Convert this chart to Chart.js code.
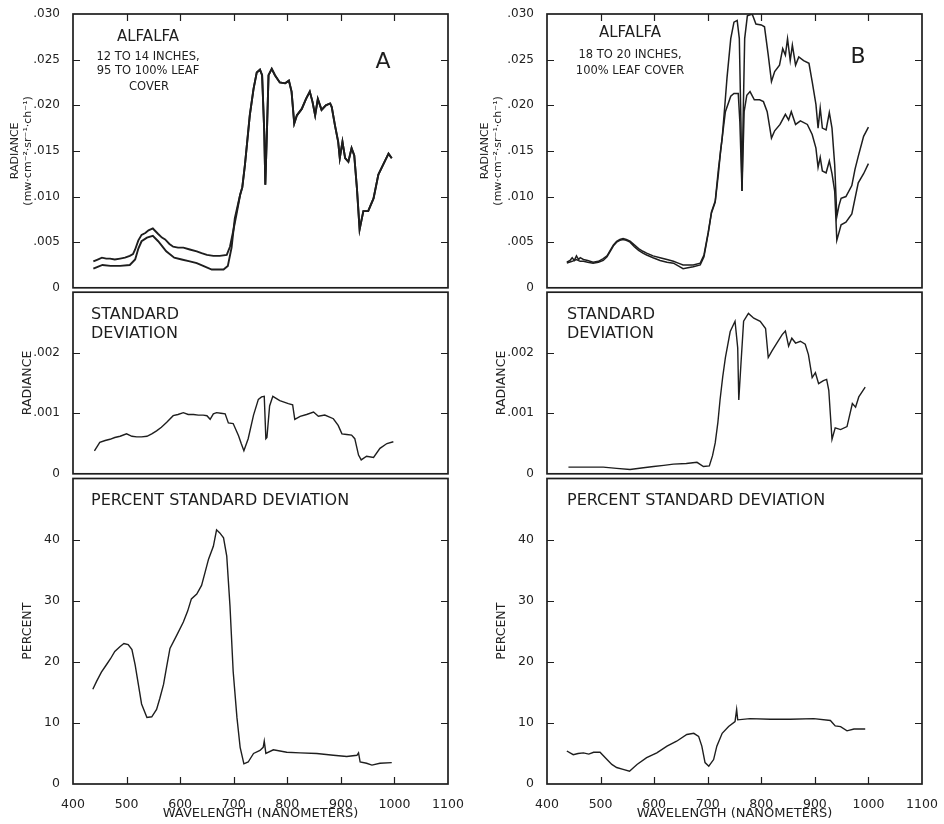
<!DOCTYPE html>
<html>
<head>
<meta charset="utf-8">
<script src="https://cdn.jsdelivr.net/npm/chart.js@4.4.0/dist/chart.umd.min.js"></script>
<style>
	html, body { margin: 0; padding: 0; background: #fff; }
	#wrap { position: relative; width: 944px; height: 824px; overflow: hidden; }
	#wrap canvas { position: absolute; }
</style>
</head>
<body>
<div id="wrap"></div>
<script>
// ---- data (wavelength nm / value) ----

// A top: radiance, 12-14 in alfalfa. Two curves that merge past ~705 nm.
const wlA_visUpper = [438, 446, 454, 462, 469, 478, 488, 497, 506, 512, 516, 522, 528, 535, 541, 549, 554, 559, 566, 572, 580, 587, 596, 606, 618, 631, 640, 650, 662, 674, 687, 693, 699, 705];
const radA_visUpper = [.0029, .0031, .0033, .0032, .0032, .0031, .0032, .0033, .0035, .0037, .0042, .0052, .0058, .0060, .0063, .0065, .0062, .0059, .0055, .0053, .0048, .0045, .0044, .0044, .0042, .0040, .0038, .0036, .0035, .0035, .0036, .0045, .0062, .0080];
const wlA_visLower = [438, 446, 455, 470, 488, 506, 516, 522, 528, 538, 549, 559, 566, 574, 589, 603, 618, 631, 643, 659, 670, 681, 689, 696, 702];
const radA_visLower = [.0021, .0023, .0025, .0024, .0024, .0025, .0031, .0043, .0051, .0055, .0057, .0051, .0046, .0040, .0033, .0031, .0029, .0027, .0024, .0020, .0020, .0020, .0024, .0044, .0076];
const wlA_nir = [712, 716, 721, 730, 737, 743, 749, 753, 757, 759, 762, 765, 771, 777, 786, 796, 803, 808, 813, 818, 827, 835, 842, 847, 852, 857, 864, 872, 880, 883, 889, 895, 898, 903, 908, 914, 920, 925, 930, 935, 942, 951, 961, 970, 979, 989, 995];
const radA_nir = [.0102, .0110, .0135, .0189, .0218, .0236, .0239, .0233, .0171, .0113, .0171, .0233, .0240, .0233, .0225, .0224, .0227, .0215, .0180, .0189, .0196, .0207, .0215, .0204, .0189, .0207, .0195, .0200, .0202, .0198, .0178, .0160, .0142, .0160, .0142, .0138, .0153, .0145, .0109, .0064, .0084, .0084, .0098, .0124, .0135, .0147, .0142];

// B top: radiance, 18-20 in alfalfa
const wlB_upper = [437, 443, 447, 451, 455, 459, 462, 468, 476, 486, 496, 505, 512, 518, 524, 530, 536, 542, 548, 555, 563, 571, 579, 586, 598, 611, 624, 636, 645, 654, 663, 673, 686, 693, 701, 707, 711, 714, 720, 727, 732, 736, 743, 749, 755, 759, 762, 764, 766, 769, 774, 783, 790, 800, 806, 813, 819, 825, 834, 840, 845, 849, 854, 858, 864, 870, 879, 889, 895, 902, 906, 910, 914, 921, 927, 932, 937, 941, 945, 949, 958, 969, 975, 981, 991, 1000];
const radB_upper = [.0028, .0030, .0033, .0030, .0035, .0031, .0033, .0031, .0030, .0028, .0029, .0032, .0035, .0041, .0047, .0051, .0053, .0054, .0053, .0051, .0047, .0043, .0040, .0038, .0035, .0033, .0031, .0029, .0027, .0025, .0025, .0025, .0027, .0036, .0061, .0083, .0090, .0095, .0130, .0164, .0200, .0230, .0273, .0291, .0293, .0273, .0182, .0106, .0182, .0273, .0298, .0300, .0289, .0288, .0286, .0255, .0226, .0237, .0244, .0262, .0255, .0273, .0249, .0266, .0244, .0253, .0249, .0246, .0226, .0201, .0175, .0197, .0175, .0173, .0192, .0175, .0135, .0078, .0090, .0098, .0100, .0112, .0130, .0144, .0166, .0176];
const wlB_lower = [437, 447, 455, 462, 468, 476, 486, 496, 505, 512, 518, 524, 530, 536, 542, 548, 555, 563, 571, 579, 586, 598, 611, 624, 636, 645, 654, 663, 673, 686, 693, 701, 707, 714, 720, 724, 733, 743, 749, 757, 760, 764, 768, 773, 779, 787, 797, 804, 811, 819, 825, 835, 845, 851, 856, 864, 873, 886, 895, 902, 906, 910, 914, 921, 927, 932, 937, 941, 949, 958, 969, 981, 991, 1000];
const radB_lower = [.0027, .0029, .0031, .0029, .0029, .0028, .0027, .0028, .0030, .0034, .0040, .0046, .0050, .0052, .0053, .0052, .0050, .0045, .0041, .0038, .0036, .0033, .0030, .0028, .0027, .0024, .0021, .0022, .0023, .0025, .0034, .0060, .0082, .0094, .0125, .0150, .0193, .0210, .0213, .0213, .0182, .0106, .0193, .0211, .0215, .0206, .0206, .0204, .0193, .0164, .0172, .0179, .0190, .0184, .0193, .0179, .0183, .0179, .0168, .0153, .0132, .0143, .0128, .0126, .0139, .0125, .0106, .0052, .0069, .0072, .0081, .0115, .0125, .0136];

// middle: standard deviation (radiance)
const wlA_sd = [440, 450, 460, 469, 478, 488, 500, 510, 519, 528, 538, 547, 556, 565, 575, 587, 596, 606, 615, 625, 634, 643, 650, 656, 662, 668, 676, 684, 690, 699, 709, 714, 719, 727, 737, 746, 752, 757, 760, 762, 767, 773, 786, 802, 810, 814, 824, 836, 849, 858, 870, 886, 895, 902, 911, 920, 926, 933, 938, 948, 961, 973, 986, 998];
const sdA = [.00038, .00052, .00055, .00057, .00060, .00062, .00066, .00062, .00061, .00061, .00062, .00066, .00071, .00077, .00085, .00096, .00098, .00101, .00098, .00098, .00097, .00097, .00096, .00090, .00099, .00101, .00100, .00099, .00084, .00083, .00063, .00050, .00038, .00058, .00097, .00123, .00127, .00128, .00058, .00060, .00112, .00128, .00121, .00116, .00114, .00090, .00095, .00098, .00102, .00095, .00097, .00091, .00080, .00066, .00065, .00064, .00058, .00031, .00023, .00029, .00027, .00042, .00050, .00053];
const wlB_sd = [440, 470, 505, 530, 555, 580, 599, 618, 636, 660, 680, 692, 703, 709, 714, 719, 723, 728, 733, 742, 751, 756, 758, 762, 767, 776, 786, 798, 808, 813, 820, 829, 839, 845, 851, 857, 864, 873, 882, 888, 895, 901, 907, 916, 922, 926, 932, 938, 948, 960, 970, 976, 982, 994];
const sdB = [.00011, .00011, .00011, .00009, .00007, .00010, .00012, .00014, .00016, .00017, .00019, .00012, .00013, .00030, .00051, .00085, .00122, .00160, .00192, .00235, .00252, .00208, .00122, .00181, .00252, .00265, .00257, .00252, .00240, .00192, .00203, .00216, .00230, .00236, .00211, .00224, .00216, .00219, .00214, .00197, .00159, .00167, .00149, .00154, .00156, .00138, .00057, .00076, .00073, .00078, .00116, .00110, .00127, .00143];

// bottom: percent standard deviation
const wlA_pct = [437, 444, 453, 463, 470, 478, 488, 495, 503, 510, 516, 522, 528, 538, 547, 556, 562, 569, 575, 581, 594, 606, 614, 621, 631, 640, 647, 653, 662, 668, 674, 681, 687, 693, 699, 706, 712, 719, 727, 737, 749, 755, 757, 760, 774, 799, 824, 855, 886, 911, 930, 933, 936, 948, 958, 973, 995];
const pctA = [15.5, 16.8, 18.3, 19.6, 20.5, 21.7, 22.5, 23.0, 22.8, 22.0, 19.5, 16.3, 13.1, 10.9, 11.0, 12.2, 14.0, 16.3, 19.3, 22.2, 24.4, 26.5, 28.3, 30.3, 31.1, 32.5, 34.8, 36.8, 38.9, 41.6, 41.1, 40.3, 37.3, 29.2, 18.4, 10.9, 6.0, 3.3, 3.6, 5.0, 5.5, 6.0, 7.0, 5.0, 5.6, 5.2, 5.1, 5.0, 4.7, 4.5, 4.7, 5.1, 3.6, 3.4, 3.1, 3.4, 3.5];
const wlB_pct = [437, 449, 458, 468, 478, 487, 499, 512, 521, 530, 542, 554, 568, 586, 605, 624, 642, 661, 674, 683, 689, 695, 702, 711, 717, 727, 739, 751, 754, 756, 779, 817, 854, 898, 929, 938, 948, 960, 973, 994];
const pctB = [5.4, 4.8, 5.0, 5.1, 4.9, 5.2, 5.2, 4.0, 3.2, 2.7, 2.4, 2.1, 3.2, 4.3, 5.1, 6.2, 7.0, 8.1, 8.3, 7.8, 6.2, 3.5, 2.9, 4.0, 6.2, 8.3, 9.4, 10.2, 12.2, 10.5, 10.7, 10.6, 10.6, 10.7, 10.4, 9.5, 9.4, 8.7, 9.0, 9.0];

const xRange = [400, 1100];

// ---- drawing ----

const INK = '#1e1e1e';
const FONT = "'DejaVu Sans', sans-serif";
Chart.defaults.font.family = FONT;
Chart.defaults.color = '#222';

function points(xs, ys) {
	return xs.map((x, i) => ({ x: x, y: ys[i] }));
}

function radianceLabel(v) {
	if (v === 0) return '0';
	return '.' + String(Math.round(v * 1000)).padStart(3, '0');
}

// frame around the plot area, inward tick marks, lettering inside the panel
const framePlugin = {
	id: 'frame',
	afterDraw(chart, args, opts) {
		const ctx = chart.ctx;
		const a = chart.chartArea;
		const x = chart.scales.x;
		const y = chart.scales.y;
		ctx.save();
		ctx.strokeStyle = INK;
		ctx.lineWidth = 1.7;
		ctx.strokeRect(a.left, a.top, a.right - a.left, a.bottom - a.top);

		ctx.lineWidth = 1.2;
		ctx.beginPath();
		y.ticks.forEach((t) => {
			if (t.value <= y.min || t.value >= y.max - 1e-9) return;
			const py = Math.round(y.getPixelForValue(t.value)) + 0.5;
			ctx.moveTo(a.left, py);
			ctx.lineTo(a.left + 7, py);
			ctx.moveTo(a.right, py);
			ctx.lineTo(a.right - 7, py);
		});
		for (let v = xRange[0] + 100; v < xRange[1]; v += 100) {
			const px = Math.round(x.getPixelForValue(v)) + 0.5;
			if (opts.topTicks) {
				ctx.moveTo(px, a.top);
				ctx.lineTo(px, a.top + 7);
			}
			if (opts.bottomTicks) {
				ctx.moveTo(px, a.bottom);
				ctx.lineTo(px, a.bottom - 7);
			}
		}
		ctx.stroke();

		ctx.fillStyle = '#1e1e1e';
		ctx.textBaseline = 'middle';
		(opts.notes || []).forEach((n) => {
			ctx.font = n.size + 'px ' + FONT;
			ctx.textAlign = n.align || 'left';
			ctx.fillText(n.text, n.x - opts.ox, n.y - opts.oy);
		});
		ctx.restore();
	},
};

const wrap = document.getElementById('wrap');

const columns = [
	{ left: 0, axisW: 73, padRight: 24, titleShift: 0 },
	{ left: 472, axisW: 75, padRight: 22, titleShift: 1.5 },
];

const rows = {
	top: { top: 0, height: 300, padTop: 14, padBottom: 10 },
	mid: { top: 280, height: 206, padTop: 10, padBottom: 10 },
	bot: { top: 466, height: 358, padTop: 10, padBottom: 0 },
};

function makePanel(p) {
	const col = columns[p.col];
	const row = rows[p.row];
	const canvas = document.createElement('canvas');
	canvas.width = 472;
	canvas.height = row.height;
	canvas.style.left = col.left + 'px';
	canvas.style.top = row.top + 'px';
	canvas.style.width = '472px';
	canvas.style.height = row.height + 'px';
	wrap.appendChild(canvas);

	const isBottom = p.row === 'bot';

	return new Chart(canvas, {
		type: 'line',
		data: {
			datasets: p.lines.map((l) => ({
				data: points(l[0], l[1]),
				borderColor: INK,
				borderWidth: p.lineWidth,
				pointRadius: 0,
				tension: 0,
				fill: false,
			})),
		},
		options: {
			responsive: false,
			animation: false,
			devicePixelRatio: 1,
			layout: {
				padding: { left: 0, right: col.padRight, top: row.padTop, bottom: row.padBottom },
			},
			plugins: {
				legend: { display: false },
				tooltip: { enabled: false },
				frame: {
					topTicks: p.row === 'top',
					bottomTicks: isBottom,
					notes: p.notes,
					ox: col.left,
					oy: row.top,
				},
			},
			scales: {
				x: {
					type: 'linear',
					min: xRange[0],
					max: xRange[1],
					display: isBottom,
					grid: { display: false },
					border: { display: false },
					ticks: {
						stepSize: 100,
						padding: 5,
						maxRotation: 0,
						font: { size: 12.5 },
						color: '#222',
						callback: (v) => String(v),
					},
					title: {
						display: true,
						text: 'WAVELENGTH (NANOMETERS)',
						font: { size: 13 },
						color: '#222',
						padding: { top: 0, bottom: 3 },
					},
					afterFit: (s) => {
						if (isBottom) s.height = 40;
					},
				},
				y: {
					min: p.yMin,
					max: p.yMax,
					grid: { display: false },
					border: { display: false },
					ticks: {
						stepSize: p.yStep,
						padding: 5,
						font: { size: p.tickSize },
						color: '#222',
						callback: p.yLabel,
					},
					title: {
						display: true,
						text: p.yTitle,
						font: { size: p.yTitleSize },
						color: '#222',
						padding: { top: p.yTitlePad + col.titleShift, bottom: 0 },
					},
					afterFit: (s) => { s.width = col.axisW; },
				},
			},
		},
		plugins: [framePlugin],
	});
}

const radianceTitle = ['RADIANCE', '(mw\u00b7cm\u207b\u00b2\u00b7sr\u207b\u00b9\u00b7ch\u207b\u00b9)'];
const sdLabel = (v) => (v >= 0.003 - 1e-9 ? '' : radianceLabel(v));
const pctLabel = (v) => (v >= 50 ? '' : String(v));

const panels = [
	{
		col: 0, row: 'top', lineWidth: 1.9,
		lines: [
			[wlA_visUpper.concat(wlA_nir), radA_visUpper.concat(radA_nir)],
			[wlA_visLower.concat(wlA_nir), radA_visLower.concat(radA_nir)],
		],
		yMin: 0, yMax: 0.03, yStep: 0.005, tickSize: 12, yLabel: radianceLabel,
		yTitle: radianceTitle, yTitleSize: 11, yTitlePad: 8.4,
		notes: [
			{ text: 'ALFALFA', x: 148, y: 37, size: 15, align: 'center' },
			{ text: '12 TO 14 INCHES,', x: 148, y: 57, size: 11.5, align: 'center' },
			{ text: '95 TO 100% LEAF', x: 148, y: 71.5, size: 11.5, align: 'center' },
			{ text: 'COVER', x: 149, y: 87, size: 11.5, align: 'center' },
			{ text: 'A', x: 383, y: 62, size: 22, align: 'center' },
		],
	},
	{
		col: 1, row: 'top', lineWidth: 1.5,
		lines: [
			[wlB_upper, radB_upper],
			[wlB_lower, radB_lower],
		],
		yMin: 0, yMax: 0.03, yStep: 0.005, tickSize: 12, yLabel: radianceLabel,
		yTitle: radianceTitle, yTitleSize: 11, yTitlePad: 5,
		notes: [
			{ text: 'ALFALFA', x: 630, y: 33, size: 15, align: 'center' },
			{ text: '18 TO 20 INCHES,', x: 630, y: 55, size: 11.5, align: 'center' },
			{ text: '100% LEAF COVER', x: 630, y: 71, size: 11.5, align: 'center' },
			{ text: 'B', x: 858, y: 57, size: 22, align: 'center' },
		],
	},
	{
		col: 0, row: 'mid', lineWidth: 1.4,
		lines: [[wlA_sd, sdA]],
		yMin: 0, yMax: 0.003, yStep: 0.001, tickSize: 12, yLabel: sdLabel,
		yTitle: 'RADIANCE', yTitleSize: 12.5, yTitlePad: 20.5,
		notes: [
			{ text: 'STANDARD', x: 91, y: 315, size: 16 },
			{ text: 'DEVIATION', x: 91, y: 334, size: 16 },
		],
	},
	{
		col: 1, row: 'mid', lineWidth: 1.4,
		lines: [[wlB_sd, sdB]],
		yMin: 0, yMax: 0.003, yStep: 0.001, tickSize: 12, yLabel: sdLabel,
		yTitle: 'RADIANCE', yTitleSize: 12.5, yTitlePad: 20.5,
		notes: [
			{ text: 'STANDARD', x: 567, y: 315, size: 16 },
			{ text: 'DEVIATION', x: 567, y: 334, size: 16 },
		],
	},
	{
		col: 0, row: 'bot', lineWidth: 1.4,
		lines: [[wlA_pct, pctA]],
		yMin: 0, yMax: 50, yStep: 10, tickSize: 12.5, yLabel: pctLabel,
		yTitle: 'PERCENT', yTitleSize: 12.5, yTitlePad: 20.5,
		notes: [
			{ text: 'PERCENT STANDARD DEVIATION', x: 91, y: 501, size: 16 },
		],
	},
	{
		col: 1, row: 'bot', lineWidth: 1.4,
		lines: [[wlB_pct, pctB]],
		yMin: 0, yMax: 50, yStep: 10, tickSize: 12.5, yLabel: pctLabel,
		yTitle: 'PERCENT', yTitleSize: 12.5, yTitlePad: 20.5,
		notes: [
			{ text: 'PERCENT STANDARD DEVIATION', x: 567, y: 501, size: 16 },
		],
	},
];

panels.forEach(makePanel);
</script>
</body>
</html>
